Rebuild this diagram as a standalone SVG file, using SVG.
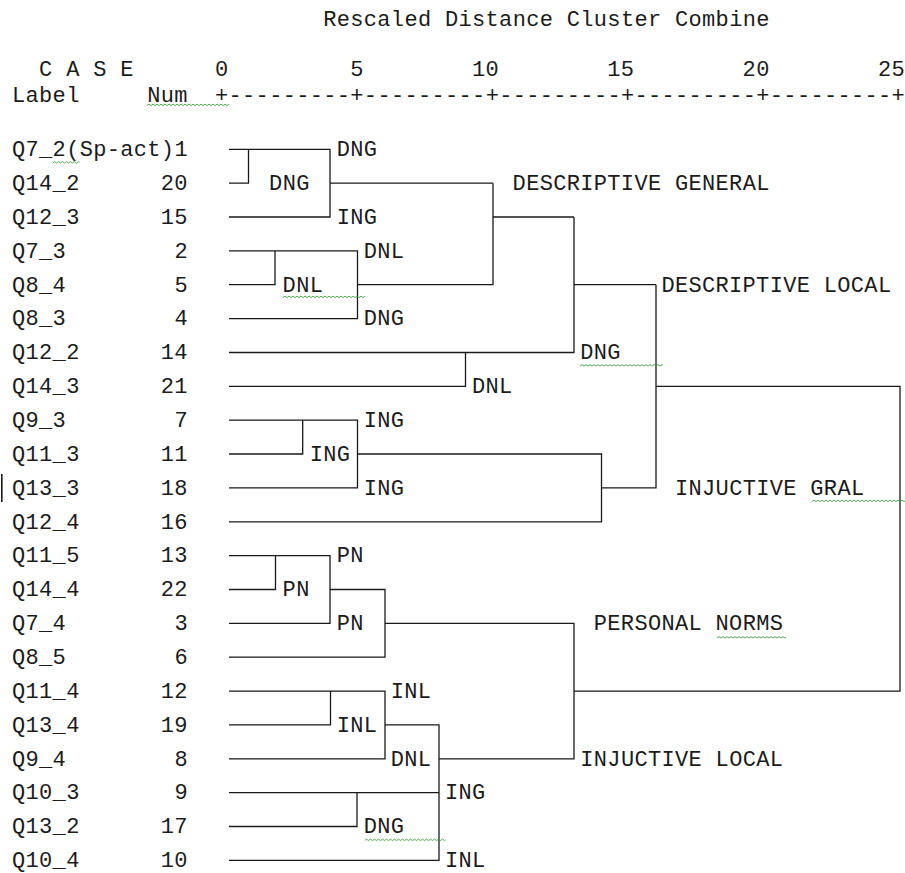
<svg xmlns="http://www.w3.org/2000/svg" xmlns:xlink="http://www.w3.org/1999/xlink" width="905" height="873" viewBox="0 0 905 873">
<style>
.t{font-family:"Liberation Mono","DejaVu Sans Mono",monospace;font-size:22px;letter-spacing:0.33px;fill:#1c1c1c}
.ln{fill:none;stroke:#1a1a1a;stroke-width:1.3}
.sq{fill:none;stroke:#3f9f3f;stroke-width:0.9}
</style>
<defs>
<path id="wav" d="M0 2.6 l2-1.5 2 1.5 2-1.5 2 1.5 2-1.5 2 1.5 2-1.5 2 1.5 2-1.5 2 1.5 2-1.5 2 1.5 2-1.5 2 1.5 2-1.5 2 1.5 2-1.5 2 1.5 2-1.5 2 1.5 2-1.5 2 1.5 2-1.5 2 1.5 2-1.5 2 1.5 2-1.5 2 1.5 2-1.5 2 1.5 2-1.5 2 1.5 2-1.5 2 1.5 2-1.5 2 1.5 2-1.5 2 1.5 2-1.5 2 1.5 2-1.5 2 1.5 2-1.5 2 1.5 2-1.5 2 1.5 2-1.5 2 1.5 2-1.5 2 1.5 2-1.5 2 1.5 2-1.5 2 1.5"/>
</defs>
<rect width="905" height="873" fill="#ffffff"/>

<g id="header">
<text class="t" x="323.2" y="26">Rescaled Distance Cluster Combine</text>
<text class="t" x="39.1" y="76">C A S E</text>
<text class="t" x="215" y="76">0</text>
<text class="t" x="350.3" y="76">5</text>
<text class="t" x="472" y="76">10</text>
<text class="t" x="607.3" y="76">15</text>
<text class="t" x="742.6" y="76">20</text>
<text class="t" x="877.9" y="76">25</text>
<text class="t" x="12" y="102">Label</text>
<text class="t" x="147.3" y="102">Num</text>
<text class="t" x="215" y="102">+---------+---------+---------+---------+---------+</text>
</g>

<g id="cases">
<g id="case1"><text class="t" x="12" y="156.1">Q7_2(Sp-act)1</text></g>
<g id="case20"><text class="t" x="12" y="190">Q14_2</text><text class="t" x="160.8" y="190">20</text></g>
<g id="case15"><text class="t" x="12" y="223.8">Q12_3</text><text class="t" x="160.8" y="223.8">15</text></g>
<g id="case2"><text class="t" x="12" y="257.7">Q7_3</text><text class="t" x="174.4" y="257.7">2</text></g>
<g id="case5"><text class="t" x="12" y="291.5">Q8_4</text><text class="t" x="174.4" y="291.5">5</text></g>
<g id="case4"><text class="t" x="12" y="325.4">Q8_3</text><text class="t" x="174.4" y="325.4">4</text></g>
<g id="case14"><text class="t" x="12" y="359.3">Q12_2</text><text class="t" x="160.8" y="359.3">14</text></g>
<g id="case21"><text class="t" x="12" y="393.1">Q14_3</text><text class="t" x="160.8" y="393.1">21</text></g>
<g id="case7"><text class="t" x="12" y="427">Q9_3</text><text class="t" x="174.4" y="427">7</text></g>
<g id="case11"><text class="t" x="12" y="460.8">Q11_3</text><text class="t" x="160.8" y="460.8">11</text></g>
<g id="case18"><text class="t" x="12" y="494.7">Q13_3</text><text class="t" x="160.8" y="494.7">18</text></g>
<g id="case16"><text class="t" x="12" y="528.6">Q12_4</text><text class="t" x="160.8" y="528.6">16</text></g>
<g id="case13"><text class="t" x="12" y="562.4">Q11_5</text><text class="t" x="160.8" y="562.4">13</text></g>
<g id="case22"><text class="t" x="12" y="596.3">Q14_4</text><text class="t" x="160.8" y="596.3">22</text></g>
<g id="case3"><text class="t" x="12" y="630.1">Q7_4</text><text class="t" x="174.4" y="630.1">3</text></g>
<g id="case6"><text class="t" x="12" y="664">Q8_5</text><text class="t" x="174.4" y="664">6</text></g>
<g id="case12"><text class="t" x="12" y="697.9">Q11_4</text><text class="t" x="160.8" y="697.9">12</text></g>
<g id="case19"><text class="t" x="12" y="731.7">Q13_4</text><text class="t" x="160.8" y="731.7">19</text></g>
<g id="case8"><text class="t" x="12" y="765.6">Q9_4</text><text class="t" x="174.4" y="765.6">8</text></g>
<g id="case9"><text class="t" x="12" y="799.4">Q10_3</text><text class="t" x="174.4" y="799.4">9</text></g>
<g id="case17"><text class="t" x="12" y="833.3">Q13_2</text><text class="t" x="160.8" y="833.3">17</text></g>
<g id="case10"><text class="t" x="12" y="867.2">Q10_4</text><text class="t" x="160.8" y="867.2">10</text></g>
</g>

<g id="connectors" class="ln">
<path d="M229 149.3 H330 V217 H229"/>
<path d="M229 183.2 H248.5 V149.3"/>
<path d="M330 183.2 H493"/>
<path d="M229 250.9 H357.5 V318.6 H229"/>
<path d="M229 284.7 H275 V250.9"/>
<path d="M357.5 284.7 H493 V183.2"/>
<path d="M493 217 H574"/>
<path d="M229 352.5 H574 V217"/>
<path d="M229 386.3 H465.5 V352.5"/>
<path d="M574 284.7 H656"/>
<path d="M229 420.2 H357.5 V487.9 H229"/>
<path d="M229 454 H302.7 V420.2"/>
<path d="M357.5 454 H601.5 V521.8 H229"/>
<path d="M601.5 487.9 H656 V284.7"/>
<path d="M656 386.3 H900 V691.1 H574"/>
<path d="M229 555.6 H330 V623.3 H229"/>
<path d="M229 589.5 H275.5 V555.6"/>
<path d="M330 589.5 H385 V657.2 H229"/>
<path d="M385 623.3 H574 V758.8 H439"/>
<path d="M229 691.1 H385 V758.8 H229"/>
<path d="M229 724.9 H330.5 V691.1"/>
<path d="M385 724.9 H439 V860.4 H229"/>
<path d="M229 792.6 H439"/>
<path d="M229 826.5 H357 V792.6"/>
</g>

<g id="cluster-labels">
<text class="t" x="336.7" y="156.1">DNG</text>
<text class="t" x="269.1" y="190">DNG</text>
<text class="t" x="336.7" y="223.8">ING</text>
<text class="t" x="363.8" y="257.7">DNL</text>
<text class="t" x="282.6" y="291.5">DNL</text>
<text class="t" x="363.8" y="325.4">DNG</text>
<text class="t" x="580.3" y="359.3">DNG</text>
<text class="t" x="472" y="393.1">DNL</text>
<text class="t" x="363.8" y="427">ING</text>
<text class="t" x="309.7" y="460.8">ING</text>
<text class="t" x="363.8" y="494.7">ING</text>
<text class="t" x="336.7" y="562.4">PN</text>
<text class="t" x="282.6" y="596.3">PN</text>
<text class="t" x="336.7" y="630.1">PN</text>
<text class="t" x="390.8" y="697.9">INL</text>
<text class="t" x="336.7" y="731.7">INL</text>
<text class="t" x="390.8" y="765.6">DNL</text>
<text class="t" x="445" y="799.4">ING</text>
<text class="t" x="363.8" y="833.3">DNG</text>
<text class="t" x="445" y="867.2">INL</text>
<text class="t" x="512.6" y="190">DESCRIPTIVE GENERAL</text>
<text class="t" x="661.4" y="291.5">DESCRIPTIVE LOCAL</text>
<text class="t" x="675" y="494.7">INJUCTIVE GRAL</text>
<text class="t" x="593.8" y="630.1">PERSONAL NORMS</text>
<text class="t" x="580.3" y="765.6">INJUCTIVE LOCAL</text>
</g>

<g id="squiggles">
<svg x="147" y="103" width="82" height="4"><use xlink:href="#wav" class="sq"/></svg>
<svg x="52.5" y="160.5" width="27" height="4"><use xlink:href="#wav" class="sq"/></svg>
<svg x="283" y="295" width="82" height="4"><use xlink:href="#wav" class="sq"/></svg>
<svg x="580" y="363.5" width="83" height="4"><use xlink:href="#wav" class="sq"/></svg>
<svg x="812" y="499" width="93" height="4"><use xlink:href="#wav" class="sq"/></svg>
<svg x="717" y="635.5" width="69" height="4"><use xlink:href="#wav" class="sq"/></svg>
<svg x="364.5" y="838" width="81" height="4"><use xlink:href="#wav" class="sq"/></svg>
</g>

<rect id="cursor" x="1" y="474" width="1.6" height="28" fill="#1a1a1a"/>
</svg>
